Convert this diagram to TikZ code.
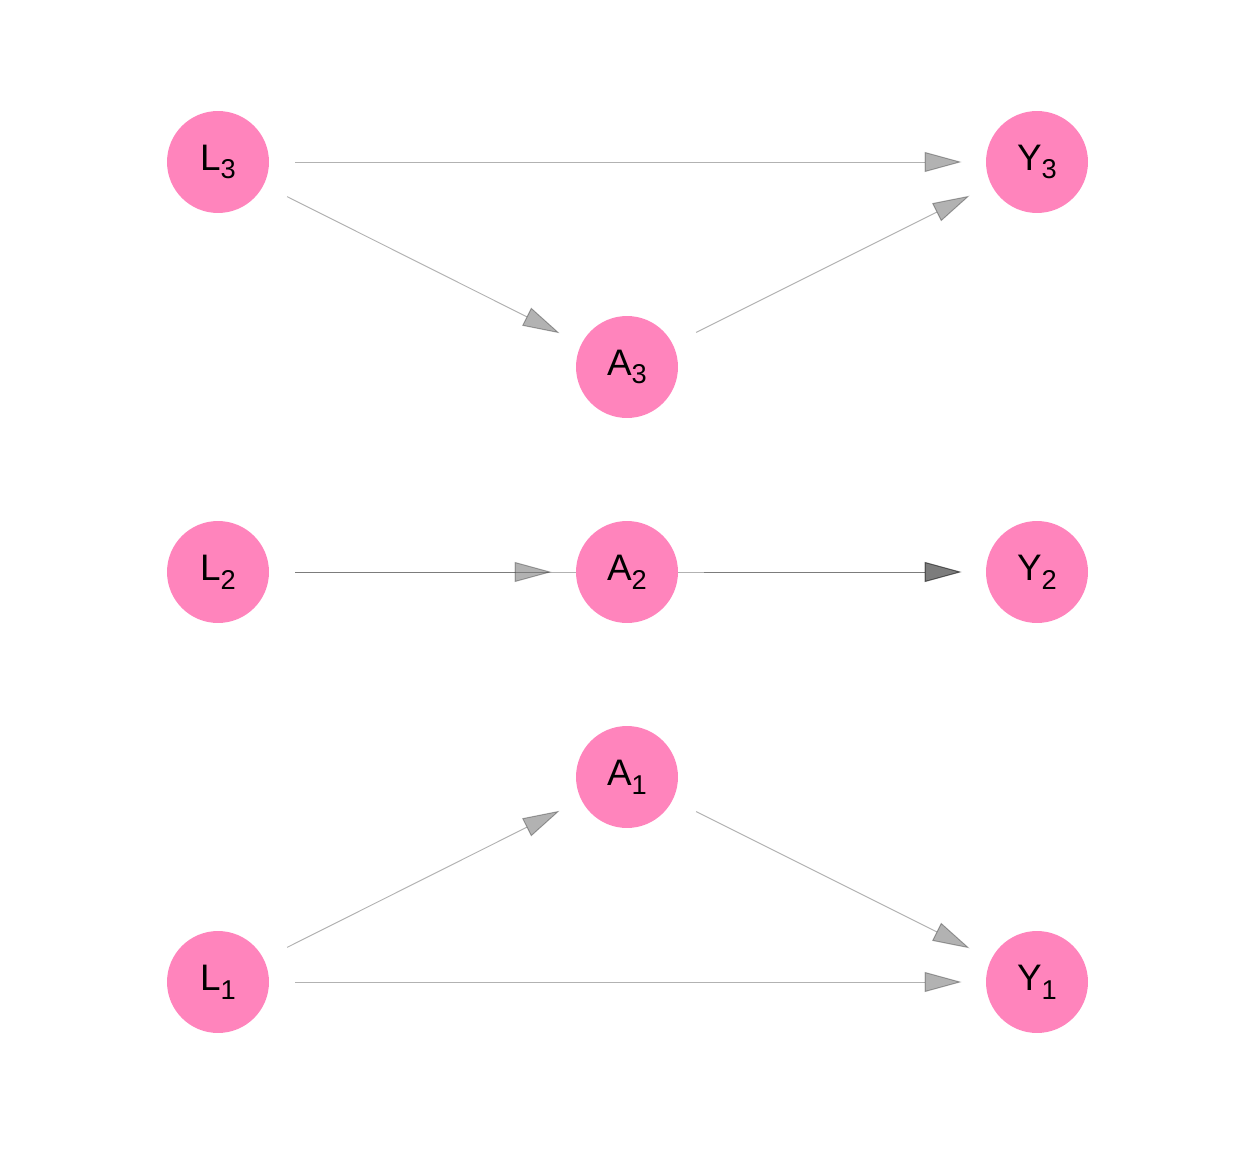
\documentclass[tikz,border=0pt]{standalone}
\usepackage{fontspec}
\setmainfont{Liberation Sans}
\usetikzlibrary{arrows.meta,backgrounds}
\definecolor{pinkfill}{RGB}{255,132,188}
\newcommand{\lbl}[2]{#1{\fontsize{15.5}{15.5}\selectfont\raisebox{-5pt}{#2}}}
\tikzset{
  dagnode/.style={circle, fill=pinkfill, draw=none, minimum size=2.04cm, inner sep=0pt, font=\fontsize{21}{21}\selectfont},
  dagedge/.style={draw=black, opacity=0.3, line width=0.55pt, shorten >=0.48cm, shorten <=0.52cm,
    -{Triangle[length=0.74cm, width=0.4cm, fill=black]}},
}
\begin{document}
\begin{tikzpicture}[x=0.02cm, y=-0.02cm]
\useasboundingbox (0,0) rectangle (1248,1152);
\node[dagnode] (L3) at (218,162) {\lbl{L}{3}};
\node[dagnode] (Y3) at (1037,162) {\lbl{Y}{3}};
\node[dagnode] (A3) at (627,367) {\lbl{A}{3}};
\node[dagnode] (L2) at (218,572) {\lbl{L}{2}};
\node[dagnode] (A2) at (627,572) {\lbl{A}{2}};
\node[dagnode] (Y2) at (1037,572) {\lbl{Y}{2}};
\node[dagnode] (A1) at (627,777) {\lbl{A}{1}};
\node[dagnode] (L1) at (218,982) {\lbl{L}{1}};
\node[dagnode] (Y1) at (1037,982) {\lbl{Y}{1}};
\begin{scope}[on background layer]
\draw[dagedge] (L3) -- (Y3);
\draw[dagedge] (L3) -- (A3);
\draw[dagedge] (A3) -- (Y3);
\draw[dagedge] (L2) -- (Y2);
\draw[dagedge] (L2) -- (A2);
\draw[dagedge] (A2) -- (Y2);
\draw[dagedge] (L1) -- (Y1);
\draw[dagedge] (L1) -- (A1);
\draw[dagedge] (A1) -- (Y1);
\end{scope}
\end{tikzpicture}
\end{document}
